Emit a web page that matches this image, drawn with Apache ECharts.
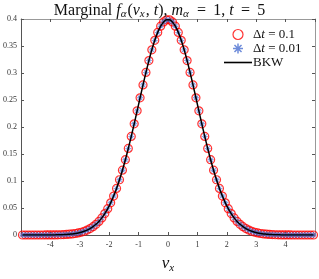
<!DOCTYPE html>
<html><head><meta charset="utf-8">
<script src="https://cdn.jsdelivr.net/npm/echarts@6/dist/echarts.min.js"></script>
<style>html,body{margin:0;padding:0;background:#fff}#c{width:319px;height:279px}</style>
</head><body><div id="c"></div>
<script>
// velocity grid (cell centres)
var vx = [-4.95,-4.85,-4.75,-4.65,-4.55,-4.45,-4.35,-4.25,-4.15,-4.05,
  -3.95,-3.85,-3.75,-3.65,-3.55,-3.45,-3.35,-3.25,-3.15,-3.05,
  -2.95,-2.85,-2.75,-2.65,-2.55,-2.45,-2.35,-2.25,-2.15,-2.05,
  -1.95,-1.85,-1.75,-1.65,-1.55,-1.45,-1.35,-1.25,-1.15,-1.05,
  -0.95,-0.85,-0.75,-0.65,-0.55,-0.45,-0.35,-0.25,-0.15,-0.05,
  0.05,0.15,0.25,0.35,0.45,0.55,0.65,0.75,0.85,0.95,
  1.05,1.15,1.25,1.35,1.45,1.55,1.65,1.75,1.85,1.95,
  2.05,2.15,2.25,2.35,2.45,2.55,2.65,2.75,2.85,2.95,
  3.05,3.15,3.25,3.35,3.45,3.55,3.65,3.75,3.85,3.95,
  4.05,4.15,4.25,4.35,4.45,4.55,4.65,4.75,4.85,4.95];
// marginal f values
var fDt01 = [0.0000,0.0000,0.0000,0.0000,0.0000,0.0000,0.0000,0.0000,0.0001,0.0001,
  0.0002,0.0002,0.0004,0.0005,0.0007,0.0010,0.0015,0.0020,0.0028,0.0038,
  0.0051,0.0069,0.0091,0.0119,0.0155,0.0198,0.0252,0.0317,0.0396,0.0488,
  0.0596,0.0721,0.0863,0.1023,0.1200,0.1394,0.1604,0.1826,0.2059,0.2299,
  0.2541,0.2780,0.3011,0.3230,0.3429,0.3605,0.3752,0.3867,0.3945,0.3984,
  0.3984,0.3945,0.3867,0.3752,0.3605,0.3429,0.3230,0.3011,0.2780,0.2541,
  0.2299,0.2059,0.1826,0.1604,0.1394,0.1200,0.1023,0.0863,0.0721,0.0596,
  0.0488,0.0396,0.0317,0.0252,0.0198,0.0155,0.0119,0.0091,0.0069,0.0051,
  0.0038,0.0028,0.0020,0.0015,0.0010,0.0007,0.0005,0.0004,0.0002,0.0002,
  0.0001,0.0001,0.0000,0.0000,0.0000,0.0000,0.0000,0.0000,0.0000,0.0000];
var fDt001 = [0.0000,0.0000,0.0000,0.0000,0.0000,0.0000,0.0000,0.0000,0.0001,0.0001,
  0.0002,0.0002,0.0004,0.0005,0.0007,0.0010,0.0015,0.0020,0.0028,0.0038,
  0.0051,0.0069,0.0091,0.0119,0.0155,0.0198,0.0252,0.0317,0.0396,0.0488,
  0.0596,0.0721,0.0863,0.1023,0.1200,0.1394,0.1604,0.1826,0.2059,0.2299,
  0.2541,0.2780,0.3011,0.3230,0.3429,0.3605,0.3752,0.3867,0.3945,0.3984,
  0.3984,0.3945,0.3867,0.3752,0.3605,0.3429,0.3230,0.3011,0.2780,0.2541,
  0.2299,0.2059,0.1826,0.1604,0.1394,0.1200,0.1023,0.0863,0.0721,0.0596,
  0.0488,0.0396,0.0317,0.0252,0.0198,0.0155,0.0119,0.0091,0.0069,0.0051,
  0.0038,0.0028,0.0020,0.0015,0.0010,0.0007,0.0005,0.0004,0.0002,0.0002,
  0.0001,0.0001,0.0000,0.0000,0.0000,0.0000,0.0000,0.0000,0.0000,0.0000];
var fBKW = [0.0000,0.0000,0.0000,0.0000,0.0000,0.0000,0.0000,0.0000,0.0001,0.0001,
  0.0002,0.0002,0.0004,0.0005,0.0007,0.0010,0.0015,0.0020,0.0028,0.0038,
  0.0051,0.0069,0.0091,0.0119,0.0155,0.0198,0.0252,0.0317,0.0396,0.0488,
  0.0596,0.0721,0.0863,0.1023,0.1200,0.1394,0.1604,0.1826,0.2059,0.2299,
  0.2541,0.2780,0.3011,0.3230,0.3429,0.3605,0.3752,0.3867,0.3945,0.3984,
  0.3984,0.3945,0.3867,0.3752,0.3605,0.3429,0.3230,0.3011,0.2780,0.2541,
  0.2299,0.2059,0.1826,0.1604,0.1394,0.1200,0.1023,0.0863,0.0721,0.0596,
  0.0488,0.0396,0.0317,0.0252,0.0198,0.0155,0.0119,0.0091,0.0069,0.0051,
  0.0038,0.0028,0.0020,0.0015,0.0010,0.0007,0.0005,0.0004,0.0002,0.0002,
  0.0001,0.0001,0.0000,0.0000,0.0000,0.0000,0.0000,0.0000,0.0000,0.0000];
var seriesNames = ['\u0394t = 0.1', '\u0394t = 0.01', 'BKW'];

function pairs(xs, ys){ return xs.map(function(x,i){ return [x, ys[i]]; }); }

var SERIF = '"Liberation Serif","DejaVu Serif",serif';
var star = 'path://M-1,-0.15L1,-0.15L1,0.15L-1,0.15Z M-0.15,-1L0.15,-1L0.15,1L-0.15,1Z M-0.6,-0.81L0.81,0.6L0.6,0.81L-0.81,-0.6Z M-0.81,0.6L0.6,-0.81L0.81,-0.6L-0.6,0.81Z';
var axisCol = '#555';
var labelStyle = {fontFamily: SERIF, fontSize: 8, color: '#333'};

var chart = echarts.init(document.getElementById('c'), null, {renderer: 'canvas'});
chart.setOption({
  animation: false,
  backgroundColor: '#fff',
  title: {
    text: '{n|Marginal }{i|f}{s|\u03b1}{n|(}{i|v}{s|x}{n|, }{i|t}{n|), }{i|m}{s|\u03b1}{n| \u2009=\u2009 1, }{i|t}{n| \u2009=\u2009 5}',
    left: 'center', top: -3,
    textStyle: {
      fontWeight: 'normal',
      rich: {
        n: {fontFamily: SERIF, fontSize: 16, fontWeight: 'normal', color: '#111'},
        i: {fontFamily: SERIF, fontSize: 16, fontWeight: 'normal', fontStyle: 'italic', color: '#111'},
        s: {fontFamily: SERIF, fontSize: 11, fontWeight: 'normal', fontStyle: 'italic', color: '#111', padding: [7,1,0,0]}
      }
    }
  },
  legend: {
    orient: 'vertical', left: 219, top: 23,
    itemWidth: 28, itemHeight: 10, itemGap: 1,
    data: [
      {name: seriesNames[0], icon: 'circle', itemStyle: {color: 'transparent', borderColor: '#ff0000', borderWidth: 1.2}},
      {name: seriesNames[1], icon: star, itemStyle: {color: '#4a6fd1'}},
      {name: seriesNames[2], icon: 'path://M0,0L28,0L28,1.6L0,1.6Z', itemStyle: {color: '#000'}}
    ],
    formatter: function(name){
      if (name === 'BKW') return '{n|BKW}';
      return '{n|\u0394}{i|t}{n|' + name.slice(2) + '}';
    },
    textStyle: {
      padding: [0,0,0,-4],
      rich: {
        n: {fontFamily: SERIF, fontSize: 13, color: '#111'},
        i: {fontFamily: SERIF, fontSize: 13, fontStyle: 'italic', color: '#111'}
      }
    }
  },
  grid: {left: 19, right: 4, top: 19, bottom: 32, containLabel: false},
  xAxis: [{
    type: 'value', min: -5, max: 5, interval: 1,
    axisLine: {show: true, onZero: false, lineStyle: {color: axisCol, width: 1}},
    axisTick: {show: true, inside: true, length: 3, lineStyle: {color: axisCol}},
    axisLabel: Object.assign({showMinLabel: false, showMaxLabel: false, margin: 6}, labelStyle),
    splitLine: {show: false},
    name: '{i|v}{s|x}', nameLocation: 'middle', nameGap: 18,
    nameTextStyle: {rich: {
      i: {fontFamily: SERIF, fontSize: 17, fontStyle: 'italic', color: '#111'},
      s: {fontFamily: SERIF, fontSize: 11, fontStyle: 'italic', color: '#111', padding: [10,0,0,0]}
    }}
  }, {
    type: 'value', min: -5, max: 5, interval: 1, position: 'top',
    axisLine: {show: true, onZero: false, lineStyle: {color: '#999', width: 1}},
    axisTick: {show: true, inside: true, length: 3, lineStyle: {color: axisCol}},
    axisLabel: {show: false}, splitLine: {show: false}
  }],
  yAxis: [{
    type: 'value', min: 0, max: 0.4, interval: 0.05,
    axisLine: {show: true, onZero: false, lineStyle: {color: axisCol, width: 1}},
    axisTick: {show: true, inside: true, length: 3, lineStyle: {color: axisCol}},
    axisLabel: Object.assign({margin: 4}, labelStyle),
    splitLine: {show: false}
  }, {
    type: 'value', min: 0, max: 0.4, interval: 0.05, position: 'right',
    axisLine: {show: true, onZero: false, lineStyle: {color: '#999', width: 1}},
    axisTick: {show: true, inside: true, length: 3, lineStyle: {color: axisCol}},
    axisLabel: {show: false}, splitLine: {show: false}
  }],
  series: [{
    name: seriesNames[0], type: 'scatter', data: pairs(vx, fDt01),
    symbol: 'circle', symbolSize: 8,
    itemStyle: {color: 'transparent', borderColor: '#ff0000', borderWidth: 1.2}, z: 2
  }, {
    name: seriesNames[1], type: 'scatter', data: pairs(vx, fDt001),
    symbol: star, symbolSize: 6,
    itemStyle: {color: '#4a6fd1'}, z: 3
  }, {
    name: seriesNames[2], type: 'line', data: pairs(vx, fBKW),
    symbol: 'none', showSymbol: false, smooth: 0.3,
    lineStyle: {color: '#000', width: 1.5}, itemStyle: {color: '#000'}, z: 4
  }]
});
</script></body></html>
